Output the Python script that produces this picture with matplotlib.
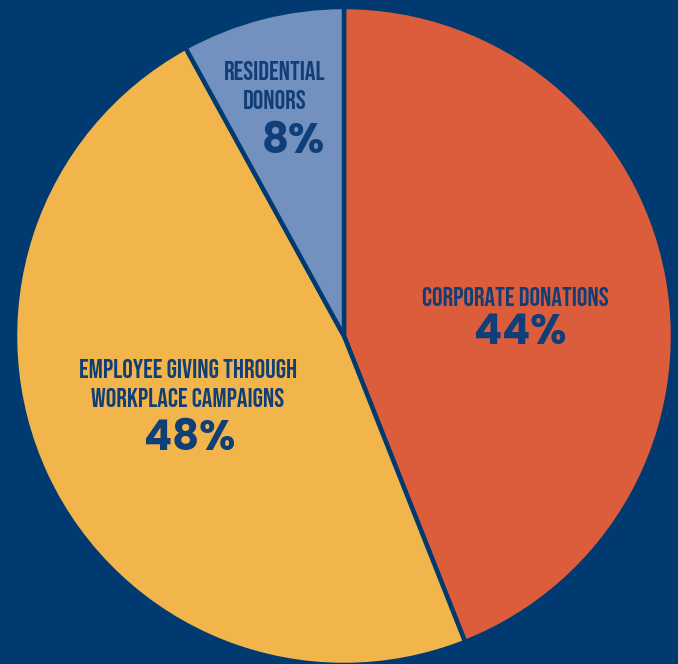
import matplotlib
matplotlib.use("Agg")
import matplotlib.pyplot as plt

categories = ["CORPORATE DONATIONS", "EMPLOYEE GIVING THROUGH\nWORKPLACE CAMPAIGNS", "RESIDENTIAL\nDONORS"]
values = [44, 48, 8]
pct_labels = ["44%", "48%", "8%"]
colors = ["#db5d3b", "#f2b54b", "#7291be"]

bg = "#013a71"
txt = "#0f3e78"

fig = plt.figure(figsize=(6.78, 6.64), dpi=100)
fig.patch.set_facecolor(bg)
ax = fig.add_axes([0, 0, 1, 1])
ax.set_facecolor(bg)

R = 329.0
cx, cy = 344.0, 336.0
W, H = 678.0, 664.0

ax.pie(values, colors=colors, startangle=90, counterclock=False, radius=1.0,
       wedgeprops=dict(edgecolor=bg, linewidth=3.2))
ax.set_xlim(-cx / R, (W - cx) / R)
ax.set_ylim(-(H - cy) / R, cy / R)
ax.set_aspect("equal")
ax.axis("off")

def P(x, y):
    return ((x - cx) / R, (cy - y) / R)

label_pos = [(515, 296), (188, 383), (275, 85)]
pct_pos = [(520, 334), (190, 440), (293, 143)]
label_font = ["Bebas Neue", "Oswald", "Roboto Condensed"]
pct_font = ["Poppins", "DejaVu Sans"]
for lab, pct, lp, pp in zip(categories, pct_labels, label_pos, pct_pos):
    ax.text(*P(*lp), lab, ha="center", va="center", fontsize=19, fontweight="bold",
            family=label_font, color=txt, linespacing=1.5)
    ax.text(*P(*pp), pct, ha="center", va="center", fontsize=30, fontweight="bold",
            family=pct_font, color=txt)

fig.savefig("out.png", dpi=100, facecolor=bg)
